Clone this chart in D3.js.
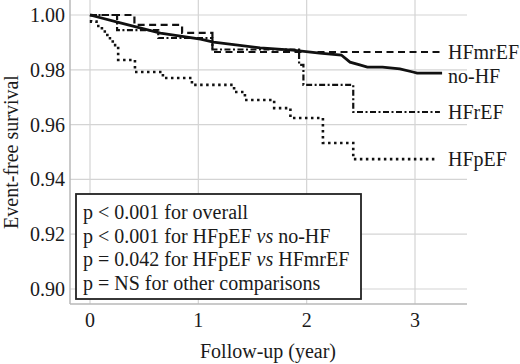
<!DOCTYPE html>
<html>
<head>
<meta charset="utf-8">
<script src="https://cdn.jsdelivr.net/npm/d3@7"></script>
<style>
  body { margin: 0; background: #fff; }
  svg text { font-family: "Liberation Serif", "Times New Roman", serif; fill: #1a1a1a; }
</style>
</head>
<body>
<div id="chart"></div>
<script>
// follow-up times (years) and survival
const noHFTime = [0, 0.28, 0.65, 1.02, 1.14, 1.57, 1.87, 2.12, 2.32, 2.40, 2.49, 2.56, 2.70, 2.86, 2.98, 3.02, 3.25];
const noHFSurv = [1.0, 0.9971, 0.9934, 0.9912, 0.9901, 0.9880, 0.9872, 0.9861, 0.9854, 0.9828, 0.9818, 0.9810, 0.9810, 0.9803, 0.9792, 0.9788, 0.9788];

const hfmrTime = [0, 0.41, 0.85, 1.13, 3.23];
const hfmrSurv = [1.0, 0.9964, 0.9935, 0.9865, 0.9865];

const hfrTime = [0, 0.25, 0.63, 1.13, 1.93, 1.97, 2.43, 3.23];
const hfrSurv = [1.0, 0.9945, 0.9916, 0.9874, 0.9818, 0.9745, 0.9646, 0.9646];

const hfpTime = [0, 0.01, 0.06, 0.11, 0.16, 0.21, 0.26, 0.415, 0.673, 0.941, 1.33, 1.43, 1.70, 1.85, 2.15, 2.43, 3.20];
const hfpSurv = [1.0, 0.9976, 0.9960, 0.9940, 0.9915, 0.9890, 0.9836, 0.9792, 0.9770, 0.9745, 0.9719, 0.9690, 0.9660, 0.9624, 0.9533, 0.9474, 0.9474];

const seriesNames = ['HFmrEF', 'no-HF', 'HFrEF', 'HFpEF'];

const xTicks = [0, 1, 2, 3];
const yTicks = [0.90, 0.92, 0.94, 0.96, 0.98, 1.00];

const legendLines = [
  ['p < 0.001 for overall'],
  ['p < 0.001 for HFpEF ', 'vs', ' no-HF'],
  ['p = 0.042 for HFpEF ', 'vs', ' HFmrEF'],
  ['p = NS for other comparisons']
];

const width = 520, height = 364;
const plotLeft = 70, plotRight = 467, plotTop = 0, plotBottom = 304;

const svg = d3.select('#chart').append('svg')
  .attr('width', width)
  .attr('height', height);

const x = d3.scaleLinear().domain([0, 3]).range([90, 415]);
const y = d3.scaleLinear().domain([0.90, 1.00]).range([289, 15]);

// grid
svg.append('g')
  .selectAll('line.h')
  .data(yTicks)
  .enter().append('line')
  .attr('x1', plotLeft).attr('x2', plotRight)
  .attr('y1', d => y(d)).attr('y2', d => y(d))
  .attr('stroke', '#d4d4d4').attr('stroke-width', 1.2);

svg.append('g')
  .selectAll('line.v')
  .data(xTicks)
  .enter().append('line')
  .attr('x1', d => x(d)).attr('x2', d => x(d))
  .attr('y1', plotTop).attr('y2', plotBottom)
  .attr('stroke', '#d4d4d4').attr('stroke-width', 1.2);

// axis lines
svg.append('line')
  .attr('x1', plotLeft).attr('x2', plotLeft)
  .attr('y1', plotTop).attr('y2', plotBottom)
  .attr('stroke', '#b8b8b8').attr('stroke-width', 1.5);
svg.append('line')
  .attr('x1', plotLeft).attr('x2', plotRight)
  .attr('y1', plotBottom).attr('y2', plotBottom)
  .attr('stroke', '#b8b8b8').attr('stroke-width', 1.5);

// tick labels
svg.append('g')
  .selectAll('text')
  .data(yTicks)
  .enter().append('text')
  .attr('x', 65)
  .attr('y', d => y(d))
  .attr('dy', '0.35em')
  .attr('text-anchor', 'end')
  .style('font-size', '20px')
  .text(d => d3.format('.2f')(d));

svg.append('g')
  .selectAll('text')
  .data(xTicks)
  .enter().append('text')
  .attr('x', d => x(d))
  .attr('y', 327)
  .attr('text-anchor', 'middle')
  .style('font-size', '20px')
  .text(d => d);

// axis titles
svg.append('text')
  .attr('x', 268).attr('y', 358)
  .attr('text-anchor', 'middle')
  .style('font-size', '20px')
  .text('Follow-up (year)');

svg.append('text')
  .attr('transform', 'translate(18,152) rotate(-90)')
  .attr('text-anchor', 'middle')
  .style('font-size', '20px')
  .text('Event-free survival');

// curves
const toPoints = (ts, ss) => ts.map((t, i) => [t, ss[i]]);
const stepLine = d3.line().x(d => x(d[0])).y(d => y(d[1])).curve(d3.curveStepAfter);
const smoothLine = d3.line().x(d => x(d[0])).y(d => y(d[1]));

const curves = [
  { name: 'HFmrEF', pts: toPoints(hfmrTime, hfmrSurv), gen: stepLine, w: 2.2, dash: '7,4.5' },
  { name: 'no-HF', pts: toPoints(noHFTime, noHFSurv), gen: smoothLine, w: 2.8, dash: null },
  { name: 'HFrEF', pts: toPoints(hfrTime, hfrSurv), gen: stepLine, w: 2.2, dash: '6,2.5,2,2.5' },
  { name: 'HFpEF', pts: toPoints(hfpTime, hfpSurv), gen: stepLine, w: 2.6, dash: '2.5,3.5' }
];

svg.append('g')
  .selectAll('path')
  .data(curves)
  .enter().append('path')
  .attr('d', d => d.gen(d.pts))
  .attr('fill', 'none')
  .attr('stroke', '#111')
  .attr('stroke-width', d => d.w)
  .attr('stroke-dasharray', d => d.dash);

// end labels
svg.append('g')
  .selectAll('text')
  .data(curves)
  .enter().append('text')
  .attr('x', 448)
  .attr('y', d => y(d.pts[d.pts.length - 1][1]) + (d.name === 'no-HF' ? 3 : 0))
  .attr('dy', '0.35em')
  .style('font-size', '20px')
  .text(d => d.name);

// p-value box
const box = svg.append('g');
box.append('rect')
  .attr('x', 76).attr('y', 194)
  .attr('width', 285).attr('height', 105)
  .attr('fill', '#fff')
  .attr('stroke', '#222')
  .attr('stroke-width', 1.8);

const lines = box.selectAll('text')
  .data(legendLines)
  .enter().append('text')
  .attr('x', 83)
  .attr('y', (d, i) => 212 + i * 23.6)
  .attr('dy', '0.35em')
  .style('font-size', '20px');

lines.selectAll('tspan')
  .data(d => d)
  .enter().append('tspan')
  .style('font-style', d => d === 'vs' ? 'italic' : 'normal')
  .style('white-space', 'pre')
  .text(d => d);
</script>
</body>
</html>
